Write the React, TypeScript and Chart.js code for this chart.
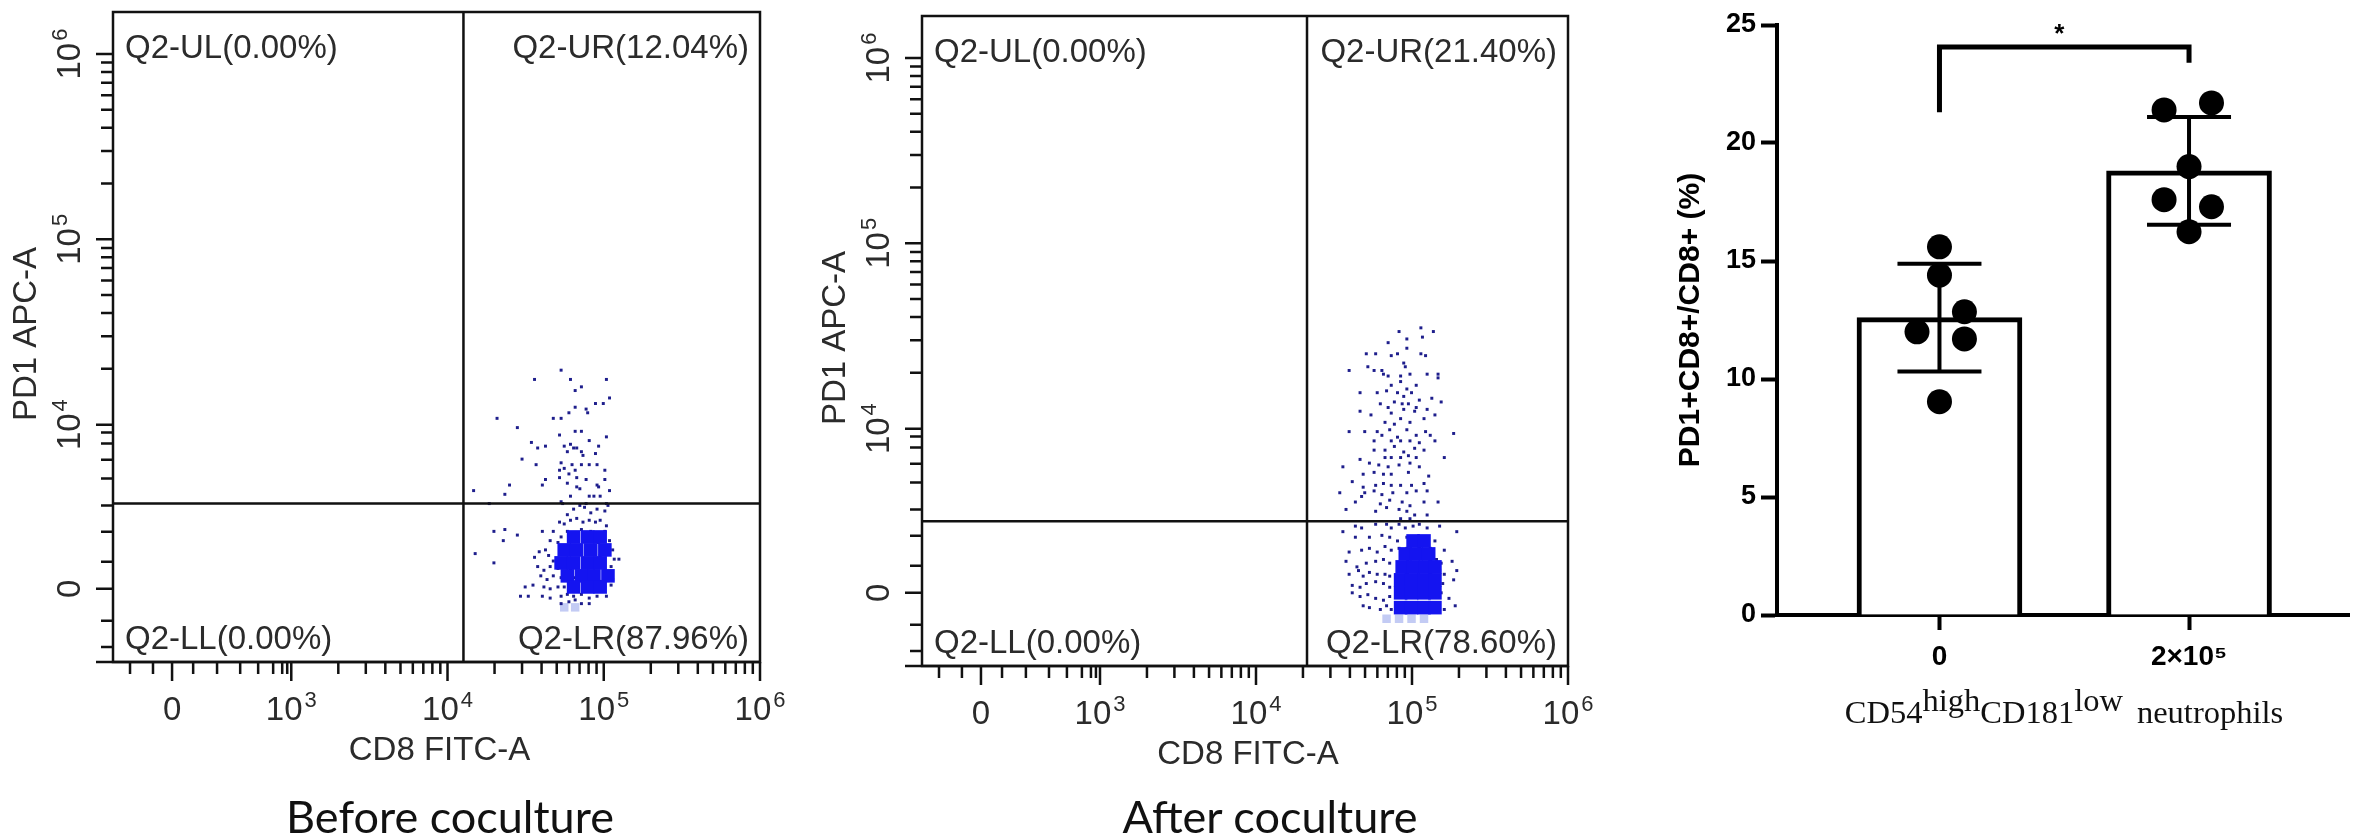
import { useEffect, useRef } from "react";
import { Chart, registerables } from "chart.js";

Chart.register(...registerables);

const SANS = '"Liberation Sans", Arial, Helvetica, sans-serif';
const SERIF = '"Liberation Serif", "Times New Roman", serif';

// ---- flow cytometry axes, in display units (1/100 decade, biexponential zero at 0)
const flowXRange = [-37.8, 376.3];
const flowYRange = [-39.5, 311.3];
const flowXTicks = [0, 76.3, 176.3, 276.3, 376.3];
const flowXTickSup = ["", "3", "4", "5", "6"];
const flowYTicks = [0, 88.6, 188.6, 288.6];
const flowYTickSup = ["", "4", "5", "6"];
const flowXMinor = [-26.9, -12.2, 13.5, 28.8, 43.6, 55.1, 64.7, 70.5, 73.7];
const flowYMinor = [-31.4, -17.3, 14.6, 30.8, 44.9, 59.5, 69.7, 78.4, 84.3];
const decadeMinor = [30.1, 47.7, 60.2, 69.9, 77.8, 84.5, 90.3, 95.4];

// ---- before coculture
const beforeGate = { x: 186.5, y: 46 };
const beforeQuadrants = ["Q2-UL(0.00%)", "Q2-UR(12.04%)", "Q2-LL(0.00%)", "Q2-LR(87.96%)"];
const beforeEvents: [number, number][] = [
  [249,118],[232,113],[255,113],[278,113],[258,107],[262,109],[280,103],[208,92],[244,92],[249,92],
  [254,95],[258,98],[265,97],[266,95],[271,100],[276,100],[221,87],[258,85],[262,85],[248,83],
  [278,82],[230,79],[234,76],[239,77],[251,77],[255,78],[257,76],[259,76],[267,80],[273,77],
  [224,70],[253,74],[262,74],[263,72],[271,73],[233,67],[249,68],[251,65],[256,67],[262,67],
  [267,67],[272,67],[248,64],[254,62],[258,64],[277,64],[248,60],[259,60],[265,59],[239,59],
  [237,56],[216,56],[213,51],[193,53],[253,57],[259,55],[261,54],[272,56],[273,55],[277,59],
  [280,53],[255,50],[267,50],[270,50],[274,50],[249,47],[250,46],[203,46],[265,46],[278,46],
  [253,40],[257,43],[261,45],[264,44],[268,41],[272,43],[277,42],[279,45],[248,36],[251,35],
  [255,37],[259,38],[263,36],[267,37],[271,36],[274,37],[278,34],[206,31],[213,32],[221,29],
  [212,26],[237,31],[244,31],[249,28],[253,31],[258,30],[262,32],[268,31],[272,30],[277,31],
  [280,26],[242,26],[247,25],[251,23],[255,26],[259,27],[264,28],[268,26],[273,25],[279,23],
  [282,21],[194,19],[206,14],[232,17],[235,20],[239,21],[241,18],[244,15],[249,16],[253,19],
  [257,20],[262,21],[266,19],[270,19],[274,18],[279,19],[283,16],[286,16],[234,12],[238,10],
  [242,12],[247,11],[251,12],[255,11],[259,13],[264,12],[268,14],[272,12],[277,10],[281,12],
  [236,7],[240,5],[244,7],[249,6],[253,5],[257,6],[262,7],[266,5],[270,6],[274,4],
  [279,7],[282,5],[226,1],[231,2],[238,1],[242,0],[247,1],[251,1],[255,0],[259,1],
  [264,1],[268,0],[272,1],[277,1],[281,2],[223,-4],[228,-4],[237,-4],[242,-5],[249,-4],
  [253,-3],[257,-4],[262,-3],[267,-5],[272,-4],[278,-4],[249,-8],[254,-7],[258,-6],[262,-8],[267,-8],
];
const beforeDense: [number, number][] = [
  [257,28],[266,28],[274,28],[251,21],[259,21],[268,21],[277,21],[249,14],[257,14],[266,14],
  [274,14],[253,7],[262,7],[270,7],[279,7],[257,1],[266,1],[274,1],
];
const beforeHaze: [number, number][] = [[251,-10],[258,-10]];

// ---- after coculture
const afterGate = { x: 209, y: 38.6 };
const afterQuadrants = ["Q2-UL(0.00%)", "Q2-UR(21.40%)", "Q2-LL(0.00%)", "Q2-LR(78.60%)"];
const afterEvents: [number, number][] = [
  [268,141],[282,143],[290,141],[283,138],[273,137],[261,135],[263,128],[267,129],[273,132],[247,129],
  [253,129],[282,129],[285,128],[271,124],[272,122],[236,120],[248,122],[252,120],[257,120],[258,118],
  [261,117],[269,117],[275,118],[286,118],[293,118],[293,116],[263,112],[269,114],[273,110],[279,112],
  [276,108],[243,108],[254,108],[260,109],[267,108],[271,106],[281,104],[289,105],[295,103],[256,102],
  [261,100],[265,103],[270,102],[274,102],[279,100],[243,98],[250,96],[263,97],[269,94],[271,99],
  [278,98],[286,99],[291,96],[259,92],[265,91],[275,92],[284,94],[236,87],[246,87],[254,87],
  [257,85],[262,88],[267,84],[273,88],[279,85],[285,87],[288,85],[291,82],[303,86],[252,82],
  [263,82],[269,82],[275,82],[281,81],[252,77],[259,77],[265,79],[271,76],[278,78],[284,77],
  [259,73],[263,73],[269,73],[274,74],[279,73],[297,73],[243,72],[249,70],[255,69],[261,68],
  [268,69],[275,70],[281,68],[232,68],[245,64],[252,65],[258,64],[263,64],[274,65],[287,63],
  [238,60],[245,57],[253,58],[258,59],[263,58],[269,58],[276,58],[284,59],[246,54],[252,55],
  [257,53],[264,54],[273,54],[279,55],[286,55],[230,54],[240,49],[244,52],[256,48],[262,50],
  [270,49],[275,47],[284,49],[293,49],[234,45],[253,44],[260,46],[268,45],[273,44],[278,42],
  [286,42],[269,40],[275,40],
  [232,33],[240,36],[244,35],[253,37],[260,37],[263,35],[268,37],[272,35],[277,36],[281,37],
  [286,35],[294,36],[305,33],[240,30],[249,30],[257,31],[262,30],[267,28],[273,30],[279,29],
  [286,30],[291,28],[236,22],[244,23],[249,24],[254,22],[259,25],[263,23],[268,24],[273,24],
  [281,25],[288,24],[297,23],[234,17],[241,14],[247,16],[253,17],[258,18],[262,16],[292,18],
  [295,16],[302,17],[236,10],[242,12],[245,9],[249,11],[254,10],[259,10],[262,9],[294,12],
  [297,10],[305,12],[238,4],[243,3],[247,5],[253,6],[258,5],[262,3],[296,5],[303,7],
  [238,0],[243,-2],[248,-1],[253,-3],[258,-4],[262,-2],[295,0],[300,-3],[304,-7],[245,-7],
  [249,-8],[256,-9],[260,-7],[263,-9],[297,-9],
];
const afterDense: [number, number][] = [
  [277,28],[284,28],[272,21],[279,21],[287,21],[270,14],[277,14],[285,14],[291,14],[269,7],
  [276,7],[284,7],[291,7],[269,0],[276,0],[284,0],[291,0],[269,-8],[276,-8],[284,-8],[291,-8],
];
const afterHaze: [number, number][] = [[260,-14],[268,-14],[276,-14],[284,-14]];

// ---- bar chart
const groups = ["0", "2×10⁵"];
const groupMeans = [12.6, 18.82];
const groupSD = [2.28, 2.28];
const dotsLow = [15.6, 14.4, 12.85, 12.0, 11.7, 9.04];
const dotsHigh = [21.4, 21.7, 19.0, 17.6, 17.3, 16.24];
const jitterLow = [0, 0, 0.1, -0.09, 0.1, 0];
const jitterHigh = [-0.1, 0.09, 0, -0.1, 0.09, 0];
const sigBracket = { leftLow: 21.3, rightLow: 23.4, top: 24.07, star: 24.9, label: "*" };

const MAIN_FONT = `33px ${SANS}`;
const SUP_FONT = `22px ${SANS}`;

function drawPowerLabel(ctx: CanvasRenderingContext2D, sup: string, cx: number, baseline: number) {
  const base = sup ? "10" : "0";
  ctx.font = MAIN_FONT;
  const w1 = ctx.measureText(base).width;
  ctx.font = SUP_FONT;
  const w2 = sup ? ctx.measureText(sup).width + 2 : 0;
  const sx = cx - (w1 + w2) / 2;
  ctx.textAlign = "left";
  ctx.font = MAIN_FONT;
  ctx.fillText(base, sx, baseline);
  if (sup) {
    ctx.font = SUP_FONT;
    ctx.fillText(sup, sx + w1 + 2, baseline - 13);
  }
}

function flowAxes(gate: { x: number; y: number }, quads: string[]) {
  return {
    id: "flowAxes",
    afterDatasetsDraw(chart: any) {
      const { ctx, chartArea: a, scales } = chart;
      const xs = scales.x;
      const ys = scales.y;
      ctx.save();
      ctx.strokeStyle = "#111";
      ctx.lineWidth = 2.5;
      const gx = xs.getPixelForValue(gate.x);
      const gy = ys.getPixelForValue(gate.y);
      ctx.beginPath();
      ctx.moveTo(gx, a.top);
      ctx.lineTo(gx, a.bottom);
      ctx.moveTo(a.left, gy);
      ctx.lineTo(a.right, gy);
      ctx.stroke();
      ctx.strokeRect(a.left, a.top, a.right - a.left, a.bottom - a.top);
      ctx.beginPath();
      ctx.moveTo(a.left - 17, a.bottom);
      ctx.lineTo(a.right, a.bottom);
      ctx.stroke();

      const xMinor = [...flowXMinor, ...flowXTicks.slice(1, 4).flatMap((d) => decadeMinor.map((m) => d + m))];
      const yMinor = [...flowYMinor, ...flowYTicks.slice(1).flatMap((d) => decadeMinor.map((m) => d + m))].filter(
        (v) => v < flowYRange[1]
      );
      ctx.beginPath();
      flowXTicks.forEach((v) => {
        const p = xs.getPixelForValue(v);
        ctx.moveTo(p, a.bottom);
        ctx.lineTo(p, a.bottom + 19);
      });
      xMinor.forEach((v) => {
        const p = xs.getPixelForValue(v);
        ctx.moveTo(p, a.bottom);
        ctx.lineTo(p, a.bottom + 12);
      });
      flowYTicks.forEach((v) => {
        const p = ys.getPixelForValue(v);
        ctx.moveTo(a.left, p);
        ctx.lineTo(a.left - 17, p);
      });
      yMinor.forEach((v) => {
        const p = ys.getPixelForValue(v);
        ctx.moveTo(a.left, p);
        ctx.lineTo(a.left - 12, p);
      });
      ctx.stroke();

      ctx.fillStyle = "#2b2b2b";
      ctx.textBaseline = "alphabetic";
      flowXTicks.forEach((v, i) => drawPowerLabel(ctx, flowXTickSup[i], xs.getPixelForValue(v), a.bottom + 58));
      flowYTicks.forEach((v, i) => {
        ctx.save();
        ctx.translate(a.left - 33, ys.getPixelForValue(v));
        ctx.rotate(-Math.PI / 2);
        drawPowerLabel(ctx, flowYTickSup[i], 0, 0);
        ctx.restore();
      });

      ctx.font = MAIN_FONT;
      ctx.textAlign = "center";
      ctx.fillText("CD8 FITC-A", (a.left + a.right) / 2 + 3, a.bottom + 98);
      ctx.save();
      ctx.translate(a.left - 77, (a.top + a.bottom) / 2 - 3);
      ctx.rotate(-Math.PI / 2);
      ctx.fillText("PD1 APC-A", 0, 0);
      ctx.restore();

      ctx.textAlign = "left";
      ctx.fillText(quads[0], a.left + 12, a.top + 46);
      ctx.fillText(quads[2], a.left + 12, a.bottom - 13);
      ctx.textAlign = "right";
      ctx.fillText(quads[1], a.right - 11, a.top + 46);
      ctx.fillText(quads[3], a.right - 11, a.bottom - 13);
      ctx.restore();
    },
  };
}

type FlowProps = {
  events: [number, number][];
  dense: [number, number][];
  haze: [number, number][];
  gate: { x: number; y: number };
  quadrants: string[];
  left: number;
  top: number;
  width: number;
  padLeft: number;
  padRight: number;
};

function FlowPlot({ events, dense, haze, gate, quadrants, left, top, width, padLeft, padRight }: FlowProps) {
  const canvasRef = useRef<HTMLCanvasElement>(null);

  useEffect(() => {
    if (!canvasRef.current) return;
    const toXY = (pts: [number, number][]) => pts.map(([x, y]) => ({ x, y }));
    const chart = new Chart(canvasRef.current, {
      type: "scatter",
      data: {
        datasets: [
          { data: toXY(dense), pointStyle: "rect", pointRadius: 9.6, backgroundColor: "#1414f0", borderWidth: 0, order: 0 },
          { data: toXY(events), pointStyle: "rect", pointRadius: 2.1, backgroundColor: "#1e1e8c", borderWidth: 0, order: 1 },
          { data: toXY(haze), pointStyle: "rect", pointRadius: 6, backgroundColor: "#c3cbf4", borderWidth: 0, order: 2 },
        ],
      },
      options: {
        responsive: false,
        animation: false,
        events: [],
        layout: { padding: { left: padLeft, right: padRight, top: 12, bottom: 800 - 662 } },
        scales: {
          x: { type: "linear", display: false, min: flowXRange[0], max: flowXRange[1] },
          y: { type: "linear", display: false, min: flowYRange[0], max: flowYRange[1] },
        },
        plugins: { legend: { display: false }, tooltip: { enabled: false } },
      },
      plugins: [flowAxes(gate, quadrants)],
    });
    return () => chart.destroy();
  }, []);

  return (
    <canvas
      ref={canvasRef}
      width={width}
      height={800}
      style={{ position: "absolute", left, top, width, height: 800 }}
    />
  );
}

const barExtras = {
  id: "barExtras",
  afterDatasetsDraw(chart: any) {
    const { ctx, scales } = chart;
    const xs = scales.x;
    const ys = scales.y;
    ctx.save();
    ctx.strokeStyle = "#000";
    ctx.lineWidth = 4;
    groupMeans.forEach((m, i) => {
      const cx = xs.getPixelForValue(i);
      const top = ys.getPixelForValue(m + groupSD[i]);
      const bot = ys.getPixelForValue(m - groupSD[i]);
      ctx.beginPath();
      ctx.moveTo(cx, top);
      ctx.lineTo(cx, bot);
      ctx.moveTo(cx - 42, top);
      ctx.lineTo(cx + 42, top);
      ctx.moveTo(cx - 42, bot);
      ctx.lineTo(cx + 42, bot);
      ctx.stroke();
    });
    ctx.lineWidth = 5;
    ctx.lineJoin = "miter";
    const x0 = xs.getPixelForValue(0);
    const x1 = xs.getPixelForValue(1);
    ctx.beginPath();
    ctx.moveTo(x0, ys.getPixelForValue(sigBracket.leftLow));
    ctx.lineTo(x0, ys.getPixelForValue(sigBracket.top));
    ctx.lineTo(x1, ys.getPixelForValue(sigBracket.top));
    ctx.lineTo(x1, ys.getPixelForValue(sigBracket.rightLow));
    ctx.stroke();
    ctx.fillStyle = "#000";
    ctx.font = `bold 26px ${SANS}`;
    ctx.textAlign = "center";
    ctx.textBaseline = "alphabetic";
    ctx.fillText(sigBracket.label, xs.getPixelForValue(0.48), ys.getPixelForValue(sigBracket.star) + 15);
    ctx.restore();
  },
};

function BarPanel() {
  const canvasRef = useRef<HTMLCanvasElement>(null);

  useEffect(() => {
    if (!canvasRef.current) return;
    const dots = [
      ...dotsLow.map((v, i) => ({ x: 0 + jitterLow[i], y: v })),
      ...dotsHigh.map((v, i) => ({ x: 1 + jitterHigh[i], y: v })),
    ];
    const chart = new Chart(canvasRef.current, {
      type: "bar",
      data: {
        datasets: [
          {
            type: "bar",
            data: groupMeans.map((m, i) => ({ x: i, y: m })),
            backgroundColor: "#fff",
            borderColor: "#000",
            borderWidth: 5,
            barThickness: 165,
            order: 2,
          } as any,
          {
            type: "scatter",
            data: dots,
            pointRadius: 12.5,
            backgroundColor: "#000",
            borderWidth: 0,
            order: 1,
          } as any,
        ],
      },
      options: {
        responsive: false,
        animation: false,
        events: [],
        layout: { padding: { top: 25, left: 0, right: 0, bottom: 0 } },
        scales: {
          x: {
            type: "linear",
            min: -0.651,
            max: 1.643,
            offset: false,
            afterBuildTicks: (s: any) => {
              s.ticks = groups.map((_, i) => ({ value: i }));
            },
            afterFit: (s: any) => {
              s.height = 220;
            },
            ticks: {
              autoSkip: false,
              maxRotation: 0,
              padding: 10,
              color: "#000",
              font: { family: SANS, size: 28, weight: "bold" },
              callback: (v: any) => groups[v as number] ?? "",
            },
            border: { width: 4, color: "#000" },
            grid: { offset: false, drawOnChartArea: false, tickLength: 15, tickWidth: 4, color: "#000" },
          },
          y: {
            min: 0,
            max: 25,
            afterFit: (s: any) => {
              s.width = 157;
            },
            ticks: { stepSize: 5, padding: 5, color: "#000", font: { family: SANS, size: 27, weight: "bold" } },
            border: { width: 4, color: "#000" },
            grid: { drawOnChartArea: false, tickLength: 16, tickWidth: 4, color: "#000" },
            title: {
              display: true,
              text: "PD1+CD8+/CD8+ (%)",
              color: "#000",
              font: { family: SANS, size: 30, weight: "bold" },
              padding: { top: 53, bottom: 0 },
            },
          },
        },
        plugins: { legend: { display: false }, tooltip: { enabled: false } },
      } as any,
      plugins: [barExtras],
    });
    return () => chart.destroy();
  }, []);

  return (
    <canvas
      ref={canvasRef}
      width={742}
      height={835}
      style={{ position: "absolute", left: 1620, top: 0, width: 742, height: 835 }}
    />
  );
}

const captionStyle = {
  position: "absolute" as const,
  top: 794,
  width: 600,
  textAlign: "center" as const,
  fontFamily: 'Lato, "Open Sans", sans-serif',
  fontSize: 45,
  lineHeight: "45px",
  color: "#111",
  whiteSpace: "nowrap" as const,
};

const raised = { position: "relative" as const, top: -12 };

export default function App() {
  return (
    <div style={{ position: "absolute", left: 0, top: 0, width: 2362, height: 835, background: "#fff", overflow: "hidden" }}>
      <FlowPlot
        events={beforeEvents}
        dense={beforeDense}
        haze={beforeHaze}
        gate={beforeGate}
        quadrants={beforeQuadrants}
        left={0}
        top={0}
        width={800}
        padLeft={113}
        padRight={40}
      />
      <FlowPlot
        events={afterEvents}
        dense={afterDense}
        haze={afterHaze}
        gate={afterGate}
        quadrants={afterQuadrants}
        left={800}
        top={4}
        width={820}
        padLeft={122}
        padRight={52}
      />
      <BarPanel />
      <div style={{ ...captionStyle, left: 450 - 300 }}>Before coculture</div>
      <div style={{ ...captionStyle, left: 1270 - 300 }}>After coculture</div>
      <div
        style={{
          position: "absolute",
          left: 1764,
          top: 696,
          width: 600,
          textAlign: "center",
          fontFamily: SERIF,
          fontSize: 32.5,
          lineHeight: "33px",
          color: "#111",
          whiteSpace: "nowrap",
        }}
      >
        CD54<span style={raised}>high</span>CD181<span style={raised}>low</span>
        <span style={{ marginLeft: 14 }}>neutrophils</span>
      </div>
    </div>
  );
}
